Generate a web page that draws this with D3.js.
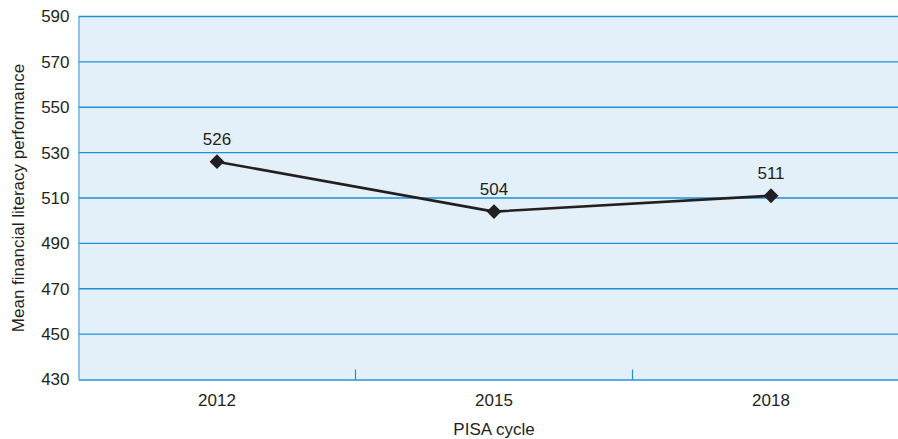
<!DOCTYPE html>
<html>
<head>
<meta charset="utf-8">
<script src="https://cdn.jsdelivr.net/npm/d3@7"></script>
<style>
  html, body { margin: 0; padding: 0; background: #fff; }
  svg { display: block; font-family: "Liberation Sans", Arial, sans-serif; }
</style>
</head>
<body>
<svg id="chart" width="898" height="439"></svg>
<script>
// PISA financial literacy: mean performance by cycle
const cycles = ["2012", "2015", "2018"];
const meanScores = [526, 504, 511];
const yTicks = [430, 450, 470, 490, 510, 530, 550, 570, 590];

const W = 898, H = 439;
const margin = { left: 78.5, top: 16.5, bottom: 59.5 };
const plotRight = 909.5; // band scale runs past the right edge of the page
const fs = 17;
const ink = "#231f20";

const svg = d3.select("#chart");

const x = d3.scaleBand().domain(cycles).range([margin.left, plotRight]).padding(0);
const y = d3.scaleLinear().domain([430, 590]).range([H - margin.bottom, margin.top]);

// plot background
svg.append("rect")
  .attr("x", margin.left).attr("y", margin.top)
  .attr("width", plotRight - margin.left)
  .attr("height", y(430) - margin.top)
  .attr("fill", "#e4f0f9");

// horizontal gridlines
svg.append("g").selectAll("line")
  .data(yTicks.filter(d => d !== 430))
  .join("line")
  .attr("x1", margin.left).attr("x2", W)
  .attr("y1", d => y(d)).attr("y2", d => y(d))
  .attr("stroke", "#1f8fd6").attr("stroke-width", 1.4);

// y axis
const yAxis = svg.append("g")
  .attr("transform", `translate(${margin.left},0)`)
  .call(d3.axisLeft(y).tickValues(yTicks).tickSize(0).tickPadding(9));
yAxis.select(".domain").attr("stroke", "#4aa6e0").attr("stroke-width", 1.2);
yAxis.selectAll("text").attr("font-size", fs).attr("fill", ink);

// x axis baseline with inner tick marks between categories
const xAxis = svg.append("g")
  .attr("transform", `translate(0,${y(430)})`)
  .call(d3.axisBottom(x).tickSize(0).tickPadding(14));
xAxis.select(".domain").attr("stroke", "#5aaee3").attr("stroke-width", 2);
xAxis.selectAll("text").attr("font-size", fs).attr("fill", ink);

svg.append("g").selectAll("line")
  .data(cycles.slice(1))
  .join("line")
  .attr("x1", d => x(d)).attr("x2", d => x(d))
  .attr("y1", y(430)).attr("y2", y(430) - 10)
  .attr("stroke", "#1f8fd6").attr("stroke-width", 1.2);

// axis titles
svg.append("text")
  .attr("transform", `translate(24,${(margin.top + y(430)) / 2}) rotate(-90)`)
  .attr("text-anchor", "middle")
  .attr("font-size", fs).attr("fill", ink)
  .text("Mean financial literacy performance");

svg.append("text")
  .attr("x", x("2015") + x.bandwidth() / 2).attr("y", 435)
  .attr("text-anchor", "middle")
  .attr("font-size", fs).attr("fill", ink)
  .text("PISA cycle");

// series line
const pts = cycles.map((c, i) => ({ c, v: meanScores[i] }));
const cx = d => x(d.c) + x.bandwidth() / 2;

svg.append("path")
  .datum(pts)
  .attr("fill", "none")
  .attr("stroke", ink)
  .attr("stroke-width", 2.6)
  .attr("d", d3.line().x(cx).y(d => y(d.v)));

// diamond markers
svg.append("g").selectAll("path")
  .data(pts)
  .join("path")
  .attr("d", d3.symbol(d3.symbolSquare, 110)())
  .attr("transform", d => `translate(${cx(d)},${y(d.v)}) rotate(45)`)
  .attr("fill", ink);

// value labels
svg.append("g").selectAll("text")
  .data(pts)
  .join("text")
  .attr("x", cx)
  .attr("y", d => y(d.v) - 17)
  .attr("text-anchor", "middle")
  .attr("font-size", fs).attr("fill", ink)
  .text(d => d.v);
</script>
</body>
</html>
